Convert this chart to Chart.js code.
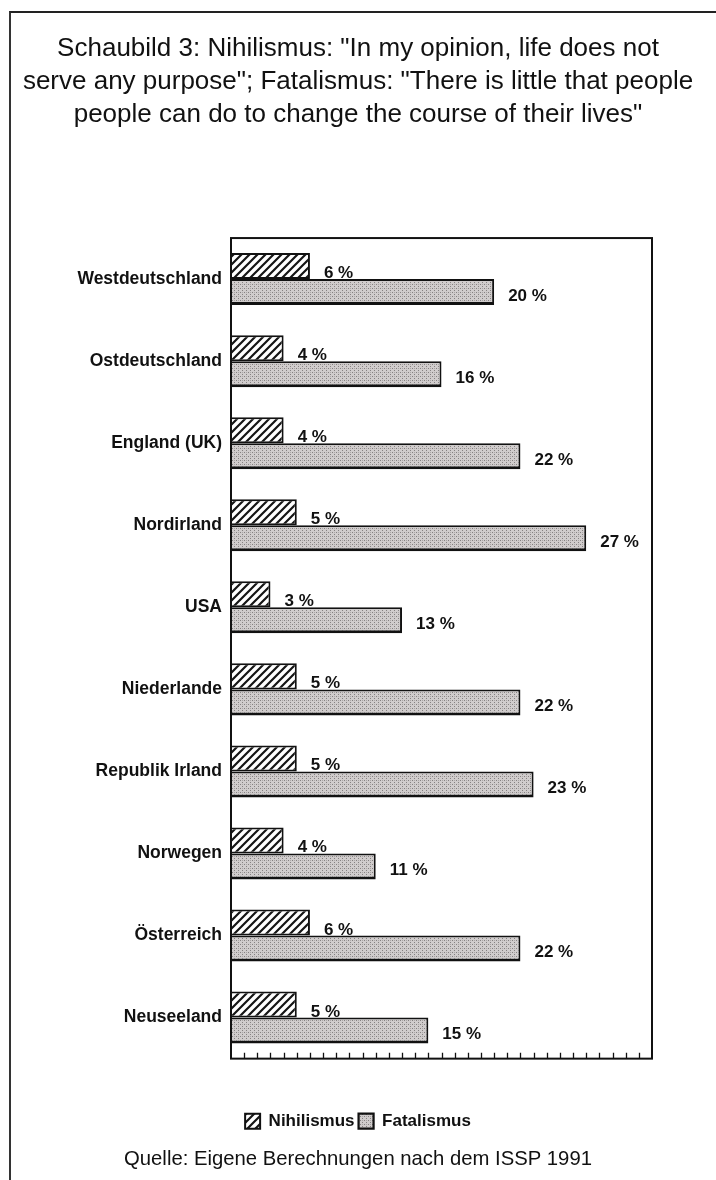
<!DOCTYPE html>
<html>
<head>
<meta charset="utf-8">
<script src="https://cdn.jsdelivr.net/npm/chart.js@4/dist/chart.umd.min.js"></script>
<style>
  html,body{margin:0;padding:0;background:#fff;}
  #wrap{position:relative;width:716px;height:1180px;}
  #frame{position:absolute;left:9px;top:11px;width:720px;height:1180px;border-top:2px solid #222;border-left:2px solid #333;pointer-events:none;}
</style>
</head>
<body>
<div id="wrap">
  <div id="frame"></div>
  <canvas id="c" width="716" height="1180"></canvas>
</div>
<script>
const categories = ["Westdeutschland","Ostdeutschland","England (UK)","Nordirland","USA","Niederlande","Republik Irland","Norwegen","Österreich","Neuseeland"];
const nihilismus = [6,4,4,5,3,5,5,4,6,5];
const fatalismus = [20,16,22,27,13,22,23,11,22,15];
const seriesNames = ["Nihilismus","Fatalismus"];
const titleLines = ['Schaubild 3: Nihilismus: "In my opinion, life does not','serve any purpose"; Fatalismus: "There is little that people','people can do to change the course of their lives"'];
const sourceText = "Quelle: Eigene Berechnungen nach dem ISSP 1991";
const xMax = 32;

function hatchPattern(){
  const c=document.createElement('canvas'); c.width=8; c.height=8;
  const g=c.getContext('2d');
  g.fillStyle='#fff'; g.fillRect(0,0,8,8);
  g.strokeStyle='#151515'; g.lineWidth=2.2; g.lineCap='square';
  g.beginPath();
  g.moveTo(-2,10); g.lineTo(10,-2);
  g.moveTo(-2,2); g.lineTo(2,-2);
  g.moveTo(6,10); g.lineTo(10,6);
  g.stroke();
  return g.createPattern(c,'repeat');
}
function dotPattern(){
  const c=document.createElement('canvas'); c.width=4; c.height=4;
  const g=c.getContext('2d');
  g.fillStyle='#d0cccc'; g.fillRect(0,0,4,4);
  g.fillStyle='#858181';
  g.fillRect(0,0,1,1); g.fillRect(2,2,1,1);
  g.fillStyle='#aaa6a6';
  g.fillRect(2,0,1,1);
  return g.createPattern(c,'repeat');
}

const FONT = "'Liberation Sans', Arial, Helvetica, sans-serif";

const framePlugin = {
  id:'framePlugin',
  afterDatasetsDraw(chart){
    const {ctx, chartArea:a, scales:{x}} = chart;
    ctx.save();
    ctx.strokeStyle='#111'; ctx.lineWidth=2;
    ctx.strokeRect(a.left, a.top, a.right-a.left, a.bottom-a.top);
    ctx.lineWidth=1.3;
    ctx.beginPath();
    x.ticks.forEach(t=>{
      if(t.value<=0 || t.value>=xMax) return;
      const px = Math.round(x.getPixelForValue(t.value))+0.5;
      ctx.moveTo(px, a.bottom); ctx.lineTo(px, a.bottom-6);
    });
    ctx.stroke();
    ctx.restore();
  }
};

const valueLabels = {
  id:'valueLabels',
  afterDatasetsDraw(chart){
    const ctx = chart.ctx;
    ctx.save();
    ctx.fillStyle='#111';
    ctx.font = "bold 17px " + FONT;
    ctx.textAlign='left';
    chart.data.datasets.forEach((ds,di)=>{
      const meta = chart.getDatasetMeta(di);
      meta.data.forEach((bar,i)=>{
        const txt = ds.data[i] + ' %';
        if(di===0){
          ctx.textBaseline='alphabetic';
          ctx.fillText(txt, bar.x+14, bar.y + bar.height/2 - 1);
        } else {
          ctx.textBaseline='middle';
          ctx.fillText(txt, bar.x+14, bar.y+4);
        }
      });
    });
    ctx.restore();
  }
};

new Chart(document.getElementById('c'), {
  type:'bar',
  data:{
    labels:categories,
    datasets:[
      {label:seriesNames[0], data:nihilismus, backgroundColor:hatchPattern(), borderColor:'#111', borderWidth:2},
      {label:seriesNames[1], data:fatalismus, backgroundColor:dotPattern(), borderColor:'#111', borderWidth:{top:2,right:2,bottom:3,left:2}}
    ]
  },
  options:{
    responsive:false,
    animation:false,
    indexAxis:'y',
    categoryPercentage:0.634,
    barPercentage:1.0,
    layout:{padding:{left:0,right:0,top:0,bottom:0}},
    scales:{
      x:{
        min:0, max:xMax,
        ticks:{display:false, stepSize:1},
        grid:{display:false, drawTicks:false},
        border:{display:false},
        afterFit(s){ s.height = 50; }
      },
      y:{
        ticks:{color:'#111', font:{family:FONT, size:17.5, weight:'bold'}, padding:9},
        grid:{display:false, drawTicks:false},
        border:{display:false},
        afterFit(s){ s.width = 231; }
      },
      yRight:{
        position:'right',
        display:true,
        ticks:{display:false},
        grid:{display:false, drawTicks:false},
        border:{display:false},
        afterFit(s){ s.width = 64; }
      }
    },
    plugins:{
      title:{
        display:true,
        text:titleLines,
        color:'#111',
        font:{family:FONT, size:26, weight:'normal', lineHeight:1.27},
        padding:{top:32, bottom:107}
      },
      subtitle:{
        display:true,
        position:'bottom',
        text:sourceText,
        color:'#111',
        font:{family:FONT, size:20.3, weight:'normal', lineHeight:1.2},
        padding:{top:8, bottom:8}
      },
      legend:{
        position:'bottom',
        labels:{
          color:'#111',
          font:{family:FONT, size:17, weight:'bold'},
          boxWidth:15, boxHeight:15, padding:4
        }
      },
      tooltip:{enabled:false}
    }
  },
  plugins:[framePlugin, valueLabels]
});
</script>
</body>
</html>
